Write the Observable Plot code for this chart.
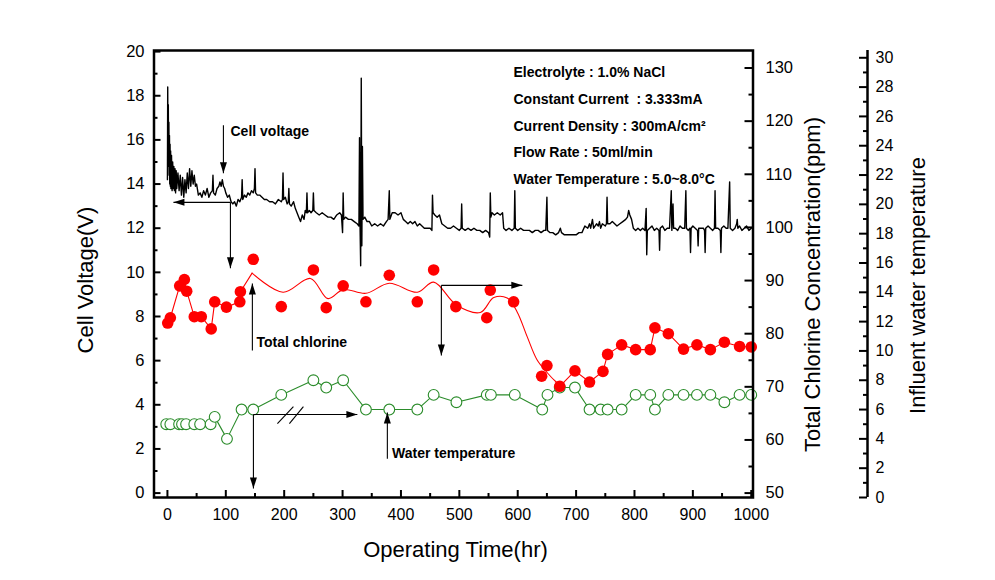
<!DOCTYPE html>
<html><head><meta charset="utf-8">
<script src="https://cdn.jsdelivr.net/npm/d3@7"></script>
<script src="https://cdn.jsdelivr.net/npm/@observablehq/plot@0.6"></script>
<style>html,body{margin:0;padding:0;background:#fff;}</style>
</head><body><div id="chart"></div>
<script>
// ---------- data ----------
// Cell voltage trace [time (hr), voltage (V)]
const cellVoltage = [
[0,14.2],[0.5,18.4],[1,15.2],[1.5,17.6],[2,14.8],[2.5,16.8],[3,14.4],[3.5,16.2],[4,14.0],[4.5,15.8],[5,13.9],[5.5,15.5],[6,13.8],[7,15.3],[8,13.7],[9,15.0],[10,13.8],[11,14.8],[12,13.7],[13,14.7],[14,13.6],[15,14.6],[16,13.8],[18,14.5],[20,13.7],[22,14.4],[24,13.5],[26,14.3],[28,13.4],[30,14.2],[32,13.6],[34,14.5],[36,13.8],[38,14.7],[40,13.9],[42,14.6],[44,14.0],[46,14.4],[48,13.9],[50,14.0],[53,13.5],[56,13.6],[59,13.4],[62,13.7],[65,13.5],[68,13.8],[71,13.4],[74,13.6],[77,13.7],[78,14.4],[79,13.6],[82,13.5],[85,13.8],[88,13.9],[90,14.1],[92,13.9],[94,14.2],[96,13.9],[98,13.8],[100,13.6],[103,13.4],[106,13.5],[109,13.2],[112,13.1],[115,13.2],[118,13.0],[121,13.3],[124,13.2],[127,13.4],[128,14.2],[129,13.3],[132,13.5],[135,13.4],[138,13.6],[141,13.5],[144,13.7],[147,13.6],[149,13.8],[150,14.7],[151,13.6],[154,13.5],[158,13.5],[162,13.4],[166,13.3],[170,13.3],[175,13.2],[180,13.2],[185,13.1],[190,13.3],[195,13.2],[197,13.3],[198,14.5],[199,13.3],[202,13.4],[205,13.1],[207,13.2],[208,13.8],[209,13.1],[212,13.0],[216,13.2],[219,12.9],[222,12.7],[225,12.5],[228,12.3],[231,12.6],[234,12.4],[236,12.8],[238,12.7],[239,13.6],[240,12.7],[243,12.8],[246,12.7],[249,12.8],[250,13.6],[251,12.8],[255,12.7],[260,12.6],[265,12.7],[270,12.6],[275,12.5],[280,12.5],[285,12.4],[290,12.6],[295,12.7],[298,12.6],[300,11.8],[301,13.6],[302,12.4],[305,12.5],[310,12.4],[315,12.4],[320,12.3],[325,12.2],[328,12.1],[329,16.1],[330,12.0],[331,10.3],[332,18.8],[333,11.2],[334,15.7],[335,12.4],[338,12.5],[342,12.3],[346,12.3],[350,12.1],[355,12.2],[360,12.1],[365,12.2],[370,12.1],[375,12.3],[378,12.4],[380,13.7],[381,12.4],[385,12.7],[390,12.7],[395,12.6],[400,12.7],[404,12.4],[408,12.3],[412,12.2],[416,12.3],[420,12.2],[424,12.3],[428,12.1],[432,12.2],[436,12.1],[440,12.0],[445,12.0],[450,12.0],[453,11.9],[454,13.5],[455,12.7],[458,12.6],[462,12.5],[466,12.6],[470,12.2],[475,12.1],[480,12.0],[485,12.0],[490,12.1],[495,12.0],[500,11.9],[503,12.0],[504,13.1],[505,12.0],[510,11.9],[515,12.0],[520,11.9],[525,12.0],[530,11.9],[535,11.9],[540,11.8],[545,11.9],[550,11.8],[552,11.6],[553,13.6],[554,12.5],[556,12.7],[560,12.6],[565,12.7],[570,12.6],[574,12.7],[576,12.0],[580,11.9],[585,12.0],[590,11.9],[594,12.0],[595,13.7],[596,12.0],[600,11.9],[605,12.0],[610,11.9],[615,11.9],[620,11.9],[625,11.8],[630,11.9],[635,11.9],[640,11.8],[645,11.9],[648,11.9],[650,13.4],[651,11.9],[655,11.8],[660,11.8],[665,11.7],[670,11.8],[673,12.0],[675,11.8],[680,11.7],[685,11.7],[690,11.7],[695,11.7],[700,11.7],[705,11.8],[710,11.8],[715,12.1],[720,12.0],[723,12.2],[725,12.0],[728,12.4],[730,12.0],[735,12.2],[738,12.1],[740,12.3],[742,12.0],[745,12.2],[750,12.1],[752,12.2],[753,13.4],[754,12.2],[758,12.2],[762,12.3],[766,12.2],[770,12.1],[775,12.2],[780,12.3],[785,12.4],[788,12.5],[790,12.8],[792,12.6],[795,12.4],[798,12.0],[802,11.9],[806,12.0],[810,11.9],[814,12.0],[818,11.9],[820,12.9],[821,10.8],[822,11.9],[826,12.0],[830,12.1],[834,11.9],[838,12.0],[842,11.9],[843,11.0],[844,12.0],[848,12.1],[852,11.9],[856,12.0],[860,12.0],[863,13.7],[864,11.9],[866,13.1],[867,12.0],[870,12.0],[874,11.9],[878,12.1],[882,12.0],[886,12.0],[888,13.7],[889,12.0],[892,11.9],[895,12.0],[896,10.9],[897,12.0],[900,12.1],[904,12.0],[908,11.9],[909,11.2],[910,12.0],[914,12.0],[918,12.0],[920,11.9],[921,10.9],[922,12.0],[926,12.1],[930,12.0],[934,11.9],[937,12.0],[938,13.7],[939,12.0],[943,12.0],[947,11.9],[948,10.9],[949,12.0],[953,12.1],[957,12.0],[960,12.0],[963,14.1],[964,12.0],[968,11.9],[972,12.0],[975,12.2],[976,12.4],[977,12.0],[980,12.1],[984,11.9],[988,12.0],[992,12.1],[996,11.9],[1000,12.0]
];

// Total chlorine (ppm)
const chlorineTime = [0.5,5,21,29,33,46,58,75,81,101,124,125,147,195,250,272,301,340,380,428,456,494,547,553,593,641,650,672,698,723,746,754,778,802,827,835,858,884,907,930,954,980,1000];
const chlorinePpm  = [82.0,83.0,89.0,90.2,88.0,83.2,83.2,80.9,86.0,85.0,86.0,87.9,94.0,85.1,92.0,84.9,89.0,86.0,91.0,86.0,92.0,85.1,83.0,88.2,86.0,72.0,74.0,70.1,73.0,70.9,72.9,76.1,77.9,77.0,77.0,81.1,80.0,77.1,77.9,77.0,78.4,77.6,77.5];
// smoothed chlorine trend line
const chlorineFitTime = [125,145,198,245,275,301,340,380,428,456,495,536,559,582,599,616,633,651,665,672];
const chlorineFitPpm  = [87.9,91.4,87.8,90.4,86.6,88.3,87.6,89.5,87.8,89.7,85.4,84.0,86.8,86.7,84.1,79.5,75.1,72.6,71.0,70.4];

// Influent water temperature (°C)
const tempTime = [-2,5,20,25,32,46,56,74,81,102,127,147,195,250,272,301,340,380,428,456,495,547,554,595,642,651,672,698,723,742,754,778,802,827,835,858,884,907,930,954,980,1000];
const tempC    = [5,5,5,5,5,5,5,5,5.5,4,6,6,7,8,7.5,8,6,6,6,7,6.5,7,7,7,6,7,7.5,7.5,6,6,6,6,7,7,6,7,7,7,7,6.5,7,7];

// tick values
const xMajor = [0,100,200,300,400,500,600,700,800,900,1000];
const xMinor = [50,150,250,350,450,550,650,750,850,950];
const yMajor = [0,2,4,6,8,10,12,14,16,18,20];
const yMinor = [1,3,5,7,9,11,13,15,17,19];
const clMajor = [50,60,70,80,90,100,110,120,130];
const clMinor = [55,65,75,85,95,105,115,125];
const tMajor = [0,2,4,6,8,10,12,14,16,18,20,22,24,26,28,30];
const tMinor = [1,3,5,7,9,11,13,15,17,19,21,23,25,27,29];

// texts
const infoLines = ["Electrolyte : 1.0% NaCl","Constant Current  : 3.333mA","Current Density : 300mA/cm\u00B2","Flow Rate : 50ml/min","Water Temperature : 5.0~8.0\u00B0C"];
const annotationLabels = [
  {text:"Cell voltage", t:108, v:16.36},
  {text:"Total chlorine", t:152.4, v:6.80},
  {text:"Water temperature", t:384.8, v:1.77}
];
const arrowShafts = [
  [95.9,16.66,95.9,14.49],[107.9,13.17,10.3,13.17],[107.9,13.17,107.9,10.18],
  [145.5,6.46,145.5,9.50],[469.2,9.41,607.9,9.41],[469.2,9.41,469.2,6.23],
  [376.7,1.56,376.7,3.65],[147.3,3.56,325.3,3.56],[147.3,3.56,147.3,0.21],
  [188.4,3.15,215.8,3.92],[208.9,3.15,232.9,3.92]
];
const arrowHeads = [
  {t:95.9,v:14.49,dir:"down"},{t:10.3,v:13.17,dir:"left"},{t:107.9,v:10.18,dir:"down"},
  {t:145.5,v:9.50,dir:"up"},{t:607.9,v:9.41,dir:"right"},{t:469.2,v:6.23,dir:"down"},
  {t:376.7,v:3.65,dir:"up"},{t:325.3,v:3.56,dir:"right"},{t:147.3,v:0.21,dir:"down"}
];

// ---------- secondary-axis mappings onto the voltage scale ----------
const clToY = c => (c - 50) * 0.2407;
const tempToY = T => T * 0.664 - 0.2;

const chlorine = chlorineTime.map((t,i)=>({t, y: clToY(chlorinePpm[i])}));
const chlorineFit = chlorineFitTime.map((t,i)=>({t, y: clToY(chlorineFitPpm[i])}));
const temperature = tempTime.map((t,i)=>({t, y: tempToY(tempC[i])}));

const W = 995, H = 580;
const mL = 153.5, mR = W - 752.5, mT = 50, mB = H - 497;
const pw = W - mL - mR, ph = H - mT - mB;
const font = "Liberation Sans, Arial, Helvetica, sans-serif";

const tri = (pts) => ({draw(ctx){ ctx.moveTo(pts[0][0],pts[0][1]); ctx.lineTo(pts[1][0],pts[1][1]); ctx.lineTo(pts[2][0],pts[2][1]); ctx.closePath(); }});
const headSym = {
  down: tri([[0,0],[-3.5,-11],[3.5,-11]]),
  up: tri([[0,0],[-3.5,11],[3.5,11]]),
  right: tri([[0,0],[-11,-3.5],[-11,3.5]]),
  left: tri([[0,0],[11,-3.5],[11,3.5]])
};

const segA = chlorine.filter(d => d.t <= 125).concat([chlorineFit[1]]);
const segC = chlorine.filter(d => d.t >= 672);

const chart = Plot.plot({
  width: W, height: H,
  marginLeft: mL, marginRight: mR, marginTop: mT, marginBottom: mB,
  x: {domain: [-23, 1003]},
  y: {domain: [-0.2, 20.05]},
  style: {fontFamily: font, background: "white", color: "black", overflow: "visible"},
  marks: [
    // data
    Plot.line(cellVoltage, {x: d=>d[0], y: d=>d[1], stroke: "black", strokeWidth: 1.4}),
    Plot.line(temperature, {x: "t", y: "y", stroke: "#2b8c2b", strokeWidth: 1.1}),
    Plot.dot(temperature, {x: "t", y: "y", r: 5.4, stroke: "#2b8c2b", fill: "white", strokeWidth: 1.1}),
    Plot.line(segA, {x: "t", y: "y", stroke: "#ff0000", strokeWidth: 1.1}),
    Plot.line(chlorineFit.slice(1), {x: "t", y: "y", stroke: "#ff0000", strokeWidth: 1.1, curve: "catmull-rom"}),
    Plot.line(segC, {x: "t", y: "y", stroke: "#ff0000", strokeWidth: 1.1}),
    Plot.dot(chlorine, {x: "t", y: "y", r: 5.8, fill: "#ff0000"}),
    // annotations
    Plot.link(arrowShafts, {x1: d=>d[0], y1: d=>d[1], x2: d=>d[2], y2: d=>d[3], stroke: "black", strokeWidth: 1.1}),
    ...["down","up","left","right"].map(dir => Plot.dot(arrowHeads.filter(d=>d.dir===dir), {x: "t", y: "v", symbol: headSym[dir], fill: "black", stroke: "none", r: 4})),
    Plot.text(annotationLabels, {x: "t", y: "v", text: "text", textAnchor: "start", fontWeight: "bold", fontSize: 14, fill: "black"}),
    Plot.text([infoLines.join("\n")], {frameAnchor: "top-left", dx: 359.5, dy: 8, lineHeight: 1.9, fontWeight: "bold", fontSize: 14, textAnchor: "start", fill: "black"}),
    // frame & ticks
    Plot.frame({stroke: "black", strokeWidth: 2.5}),
    Plot.tickY(yMajor, {y: d=>d, insetRight: pw - 7, stroke: "black", strokeWidth: 2}),
    Plot.tickY(yMinor, {y: d=>d, insetRight: pw - 4, stroke: "black", strokeWidth: 2}),
    Plot.tickX(xMajor, {x: d=>d, insetTop: ph - 7, stroke: "black", strokeWidth: 2}),
    Plot.tickX(xMinor, {x: d=>d, insetTop: ph - 4, stroke: "black", strokeWidth: 2}),
    Plot.tickY(clMajor, {y: d=>clToY(d), insetLeft: pw - 8, stroke: "black", strokeWidth: 2}),
    Plot.tickY(clMinor, {y: d=>clToY(d), insetLeft: pw - 4, stroke: "black", strokeWidth: 2}),
    // temperature axis (offset to the right)
    Plot.ruleX([1003], {y1: -0.2, y2: 20.05, dx: 114.5, stroke: "black", strokeWidth: 2.5}),
    Plot.tickY(tMajor, {y: d=>tempToY(d), insetLeft: pw - 8, dx: 114.5, stroke: "black", strokeWidth: 2}),
    Plot.tickY(tMinor, {y: d=>tempToY(d), insetLeft: pw - 4, dx: 114.5, stroke: "black", strokeWidth: 2}),
    // tick labels
    Plot.axisY(yMajor, {anchor: "left", tickSize: 0, tickPadding: 9.5, fontSize: 16.5, label: null, tickFormat: d => String(d)}),
    Plot.axisX(xMajor, {anchor: "bottom", tickSize: 0, tickPadding: 11, fontSize: 16, label: null, tickFormat: d => String(d)}),
    Plot.text(clMajor, {x: 1003, y: d=>clToY(d), text: d=>String(d), dx: 12.5, textAnchor: "start", fontSize: 16.5, fill: "black"}),
    Plot.text(tMajor, {x: 1003, y: d=>tempToY(d), text: d=>String(d), dx: 122.5, textAnchor: "start", fontSize: 16, fill: "black"}),
    // titles
    Plot.text(["Cell Voltage(V)"], {frameAnchor: "left", textAnchor: "middle", dx: -68.5, dy: 6, rotate: -90, fontSize: 22, fill: "black"}),
    Plot.text(["Operating Time(hr)"], {frameAnchor: "bottom", textAnchor: "middle", dx: 2, dy: 52, fontSize: 22, fill: "black", lineAnchor: "middle"}),
    Plot.text(["Total Chlorine Concentration(ppm)"], {frameAnchor: "right", textAnchor: "middle", dx: 59.5, dy: 10.5, rotate: -90, fontSize: 22, fill: "black"}),
    Plot.text(["Influent water temperature"], {frameAnchor: "right", textAnchor: "middle", dx: 164.5, dy: 11.5, rotate: -90, fontSize: 22, fill: "black"})
  ]
});
document.getElementById("chart").appendChild(chart);
</script>
</body></html>
